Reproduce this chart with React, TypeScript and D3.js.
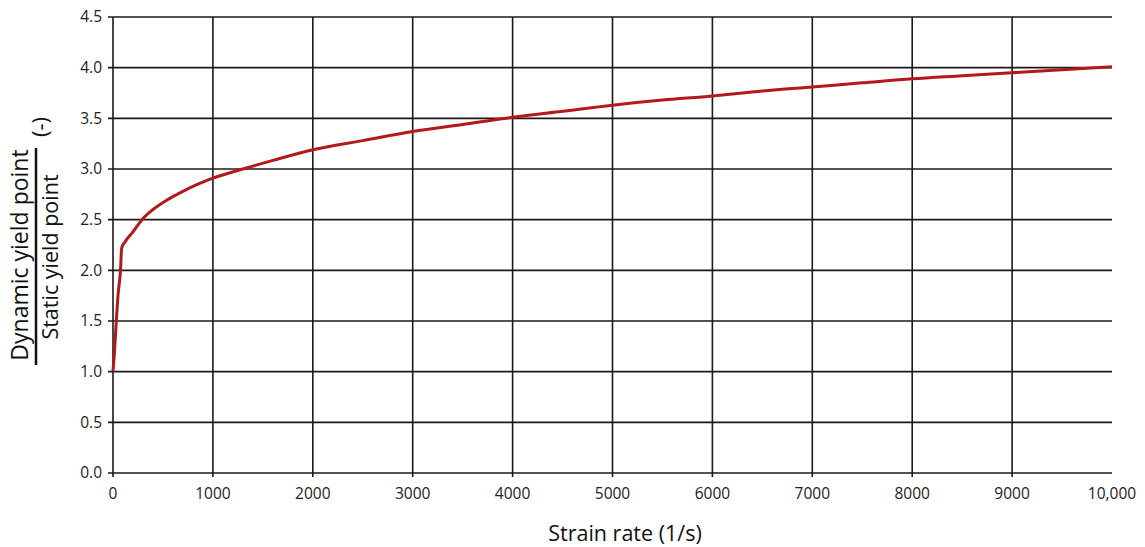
import React, { useEffect, useRef } from 'react';
import * as d3 from 'd3';

// strain rate (1/s) and dynamic/static yield ratio
const strainRates = [0, 15, 30, 50, 75, 87, 120, 200, 290, 400, 550, 700, 850, 1000, 1300, 1600, 2000, 2500, 3000, 3500, 4000, 4500, 5000, 5500, 6000, 6500, 7000, 7500, 8000, 8500, 9000, 9500, 10000];
const yieldRatios = [1.0, 1.2, 1.45, 1.75, 2.0, 2.22, 2.28, 2.38, 2.5, 2.6, 2.7, 2.78, 2.85, 2.91, 3.0, 3.085, 3.19, 3.28, 3.37, 3.44, 3.51, 3.57, 3.63, 3.68, 3.72, 3.77, 3.81, 3.85, 3.89, 3.92, 3.95, 3.98, 4.01];

const xTicks = [0, 1000, 2000, 3000, 4000, 5000, 6000, 7000, 8000, 9000, 10000];
const yTicks = [0, 0.5, 1.0, 1.5, 2.0, 2.5, 3.0, 3.5, 4.0, 4.5];

const W = 1145;
const H = 547;
const FONT = '"Open Sans", "DejaVu Sans", sans-serif';

function App() {
    const ref = useRef<SVGSVGElement>(null);

    useEffect(() => {
        const svg = d3.select(ref.current);
        svg.selectAll('*').remove();

        const x = d3.scaleLinear().domain([0, 10000]).range([113, 1112]);
        const y = d3.scaleLinear().domain([0, 4.5]).range([473, 17]);

        const g = svg.append('g');

        // horizontal grid
        g.selectAll('line.hg')
            .data(yTicks)
            .enter()
            .append('line')
            .attr('x1', x(0) - 5)
            .attr('x2', x(10000))
            .attr('y1', (d) => y(d))
            .attr('y2', (d) => y(d))
            .attr('stroke', '#1a1a1a')
            .attr('stroke-width', 1.6);

        // vertical grid (no line at 10,000)
        g.selectAll('line.vg')
            .data(xTicks.filter((d) => d < 10000))
            .enter()
            .append('line')
            .attr('x1', (d) => x(d))
            .attr('x2', (d) => x(d))
            .attr('y1', y(4.5))
            .attr('y2', y(0) + 4)
            .attr('stroke', '#1a1a1a')
            .attr('stroke-width', 1.6);

        // y tick labels
        g.selectAll('text.yl')
            .data(yTicks)
            .enter()
            .append('text')
            .attr('x', 102)
            .attr('y', (d) => y(d))
            .attr('dy', '0.35em')
            .attr('text-anchor', 'end')
            .style('font-family', FONT)
            .style('font-size', '15.5px')
            .style('fill', '#222')
            .text((d) => d.toFixed(1));

        // x tick labels
        g.selectAll('text.xl')
            .data(xTicks)
            .enter()
            .append('text')
            .attr('x', (d) => x(d))
            .attr('y', 499)
            .attr('text-anchor', 'middle')
            .style('font-family', FONT)
            .style('font-size', '15.5px')
            .style('fill', '#222')
            .text((d) => (d === 10000 ? '10,000' : String(d)));

        // curve
        const pts: [number, number][] = strainRates.map((s, i) => [s, yieldRatios[i]]);
        const line = d3
            .line<[number, number]>()
            .x((d) => x(d[0]))
            .y((d) => y(d[1]))
            .curve(d3.curveMonotoneX);

        g.append('path')
            .datum(pts)
            .attr('d', line)
            .attr('fill', 'none')
            .attr('stroke', '#b3191c')
            .attr('stroke-width', 3)
            .attr('stroke-linejoin', 'round');

        // x axis title
        g.append('text')
            .attr('x', 625)
            .attr('y', 541)
            .attr('text-anchor', 'middle')
            .style('font-family', FONT)
            .style('font-size', '21.5px')
            .style('fill', '#111')
            .text('Strain rate (1/s)');

        // y axis title as a fraction
        const yt = g.append('g');
        yt.append('text')
            .attr('transform', 'translate(28, 255) rotate(-90)')
            .attr('text-anchor', 'middle')
            .style('font-family', FONT)
            .style('font-size', '23px')
            .style('fill', '#111')
            .text('Dynamic yield point');
        yt.append('line')
            .attr('x1', 36)
            .attr('x2', 36)
            .attr('y1', 148)
            .attr('y2', 365)
            .attr('stroke', '#111')
            .attr('stroke-width', 2.5);
        yt.append('text')
            .attr('transform', 'translate(58, 257) rotate(-90)')
            .attr('text-anchor', 'middle')
            .style('font-family', FONT)
            .style('font-size', '21.5px')
            .style('fill', '#111')
            .text('Static yield point');
        yt.append('text')
            .attr('transform', 'translate(48, 127) rotate(-90)')
            .attr('text-anchor', 'middle')
            .style('font-family', FONT)
            .style('font-size', '22px')
            .style('fill', '#111')
            .text('(-)');
    }, []);

    return (
        <svg
            ref={ref}
            width={W}
            height={H}
            style={{ position: 'absolute', left: 0, top: 0, background: '#fff' }}
        />
    );
}

export default App;
